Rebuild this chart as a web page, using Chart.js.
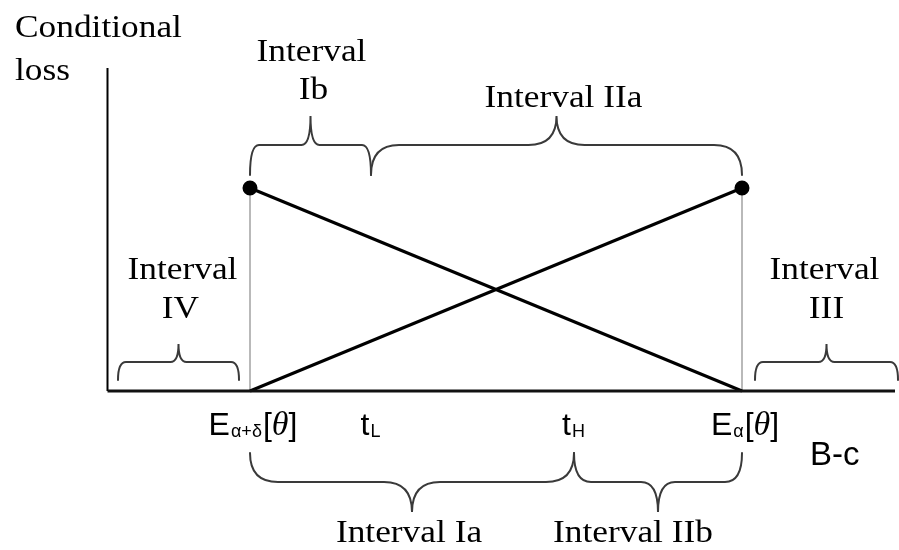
<!DOCTYPE html>
<html><head><meta charset="utf-8">
<script src="https://cdn.jsdelivr.net/npm/chart.js@4"></script>
<style>html,body{margin:0;padding:0;background:#fff;overflow:hidden}</style>
</head><body>
<canvas id="c" width="899" height="550"></canvas>
<script>
// ---- data (x in units of B-c, y in units of conditional loss) ----
const thresholdLabels = [['E','α+δ'], ['t','L'], ['t','H'], ['E','α']];
const thresholdValues = [1.425, 2.635, 4.665, 6.345];
const lossHigh = 2.03;
const lossLow = 0;
const axisXEnd = 7.875;
const axisYEnd = 3.23;
const intervalNames = ['Interval IV', 'Interval Ib', 'Interval IIa', 'Interval III', 'Interval Ia', 'Interval IIb'];
const intervalFrom = [0.105, 1.425, 2.635, 6.475, 1.425, 4.665];
const intervalTo   = [1.315, 2.635, 6.345, 7.905, 4.665, 6.345];
const axisTitleY = ['Conditional', 'loss'];
const axisTitleX = 'B-c';

const E_hi = thresholdValues[0], E_lo = thresholdValues[3];

// ---- layout/style (not data) ----
const braceRows = { // end, mid, tip in y units
  low:    [0.11, 0.29, 0.47],
  top:    [2.16, 2.46, 2.75],
  bottom: [-0.62, -0.91, -1.21]
};
const braceStyle = [
  {row: 'low', r: 8,  lines: ['Interval', 'IV'],  ly: [1.12, 0.73], dx: [4, 2]},
  {row: 'top', r: 9,  lines: ['Interval', 'Ib'],  ly: [3.30, 2.92], dx: [1, 3]},
  {row: 'top', r: 28, lines: ['Interval IIa'],    ly: [2.84], dx: [7]},
  {row: 'low', r: 8,  lines: ['Interval', 'III'], ly: [1.12, 0.73], dx: [-2, 0]},
  {row: 'bottom', r: 28, lines: ['Interval Ia'],  ly: [-1.51], dx: [-3]},
  {row: 'bottom', r: 17, lines: ['Interval IIb'], ly: [-1.51], dx: [-25]}
];
const SERIF = '31px "Liberation Serif", "Times New Roman", serif';
const SX = 1.14;

function serifText(ctx, s, x, y, align) {
  ctx.save();
  ctx.font = SERIF;
  ctx.fillStyle = '#000';
  ctx.textBaseline = 'alphabetic';
  const w = ctx.measureText(s).width * SX;
  let left = x;
  if (align === 'center') left = x - w / 2;
  ctx.translate(left, y);
  ctx.scale(SX, 1);
  ctx.textAlign = 'left';
  ctx.fillText(s, 0, 0);
  ctx.restore();
}

function brace(ctx, x1, x2, yE, yM, yT, r) {
  const xt = (x1 + x2) / 2;
  ctx.beginPath();
  ctx.moveTo(x1, yE);
  ctx.quadraticCurveTo(x1, yM, x1 + r, yM);
  ctx.lineTo(xt - r, yM);
  ctx.quadraticCurveTo(xt, yM, xt, yT);
  ctx.quadraticCurveTo(xt, yM, xt + r, yM);
  ctx.lineTo(x2 - r, yM);
  ctx.quadraticCurveTo(x2, yM, x2, yE);
  ctx.stroke();
}

const annot = {
  id: 'annot',
  afterDatasetsDraw(chart) {
    const ctx = chart.ctx, xs = chart.scales.x, ys = chart.scales.y;
    const X = v => xs.getPixelForValue(v), Y = v => ys.getPixelForValue(v);
    // braces
    ctx.save();
    ctx.strokeStyle = '#3a3a3a';
    ctx.lineWidth = 2;
    ctx.lineCap = 'round';
    intervalNames.forEach((n, i) => {
      const st = braceStyle[i], row = braceRows[st.row];
      brace(ctx, X(intervalFrom[i]), X(intervalTo[i]), Y(row[0]), Y(row[1]), Y(row[2]), st.r);
      const xt = X((intervalFrom[i] + intervalTo[i]) / 2);
      st.lines.forEach((s, k) => serifText(ctx, s, xt + st.dx[k], Y(st.ly[k]), 'center'));
    });
    ctx.restore();
    // axis titles
    axisTitleY.forEach((s, k) => serifText(ctx, s, X(-0.925), Y([3.54, 3.11][k]), 'left'));
    ctx.save();
    ctx.fillStyle = '#000';
    ctx.font = '33px "Liberation Sans", Arial, sans-serif';
    ctx.textBaseline = 'alphabetic';
    ctx.fillText(axisTitleX, X(7.025), Y(-0.74));
    // threshold labels
    const by = Y(-0.44);
    thresholdLabels.forEach((lab, i) => {
      const big = '32px "Liberation Sans", Arial, sans-serif';
      const sub = '18px "Liberation Sans", Arial, sans-serif';
      const th = 'italic 34px "Liberation Serif", "Times New Roman", serif';
      const parts = [[lab[0], big, 0], [lab[1], sub, 2]];
      if (lab[0] === 'E') parts.push(['[', big, 0], ['θ', th, 0], [']', big, 0]);
      let w = 0;
      parts.forEach(p => { ctx.font = p[1]; p.push(ctx.measureText(p[0]).width + (p[1] === sub ? 2 : 0)); w += p[3]; });
      let x = X(thresholdValues[i]) - w / 2 + (lab[0] === 't' ? 0 : 3);
      parts.forEach(p => { ctx.font = p[1]; ctx.fillText(p[0], x + (p[1] === sub ? 1 : 0), by + p[2]); x += p[3]; });
    });
    ctx.restore();
  }
};

new Chart(document.getElementById('c'), {
  type: 'scatter',
  data: {
    datasets: [
      { label: 'decreasing', data: [{x: E_hi, y: lossHigh}, {x: E_lo, y: lossLow}], showLine: true,
        borderColor: '#000', backgroundColor: '#000', borderWidth: 3, pointRadius: [6, 0], order: 1 },
      { label: 'increasing', data: [{x: E_hi, y: lossLow}, {x: E_lo, y: lossHigh}], showLine: true,
        borderColor: '#000', backgroundColor: '#000', borderWidth: 3, pointRadius: [0, 6], order: 1 },
      { label: 'guide1', data: [{x: E_hi, y: 0}, {x: E_hi, y: lossHigh}], showLine: true,
        borderColor: '#8a8a8a', borderWidth: 1.2, pointRadius: 0, order: 3 },
      { label: 'guide2', data: [{x: E_lo, y: 0}, {x: E_lo, y: lossHigh}], showLine: true,
        borderColor: '#8a8a8a', borderWidth: 1.2, pointRadius: 0, order: 3 },
      { label: 'yaxis', data: [{x: 0, y: 0}, {x: 0, y: axisYEnd}], showLine: true,
        borderColor: '#000', borderWidth: 2, pointRadius: 0, order: 2 },
      { label: 'xaxis', data: [{x: 0, y: 0}, {x: axisXEnd, y: 0}], showLine: true,
        borderColor: '#111', borderWidth: 3, pointRadius: 0, order: 0 }
    ]
  },
  options: {
    responsive: false, animation: false, devicePixelRatio: 1,
    layout: { padding: 0, autoPadding: false },
    plugins: { legend: { display: false }, tooltip: { enabled: false } },
    scales: {
      x: { type: 'linear', display: false, min: -1.075, max: 7.915 },
      y: { type: 'linear', display: false, min: -1.59, max: 3.91 }
    }
  },
  plugins: [annot]
});
</script>
</body></html>
